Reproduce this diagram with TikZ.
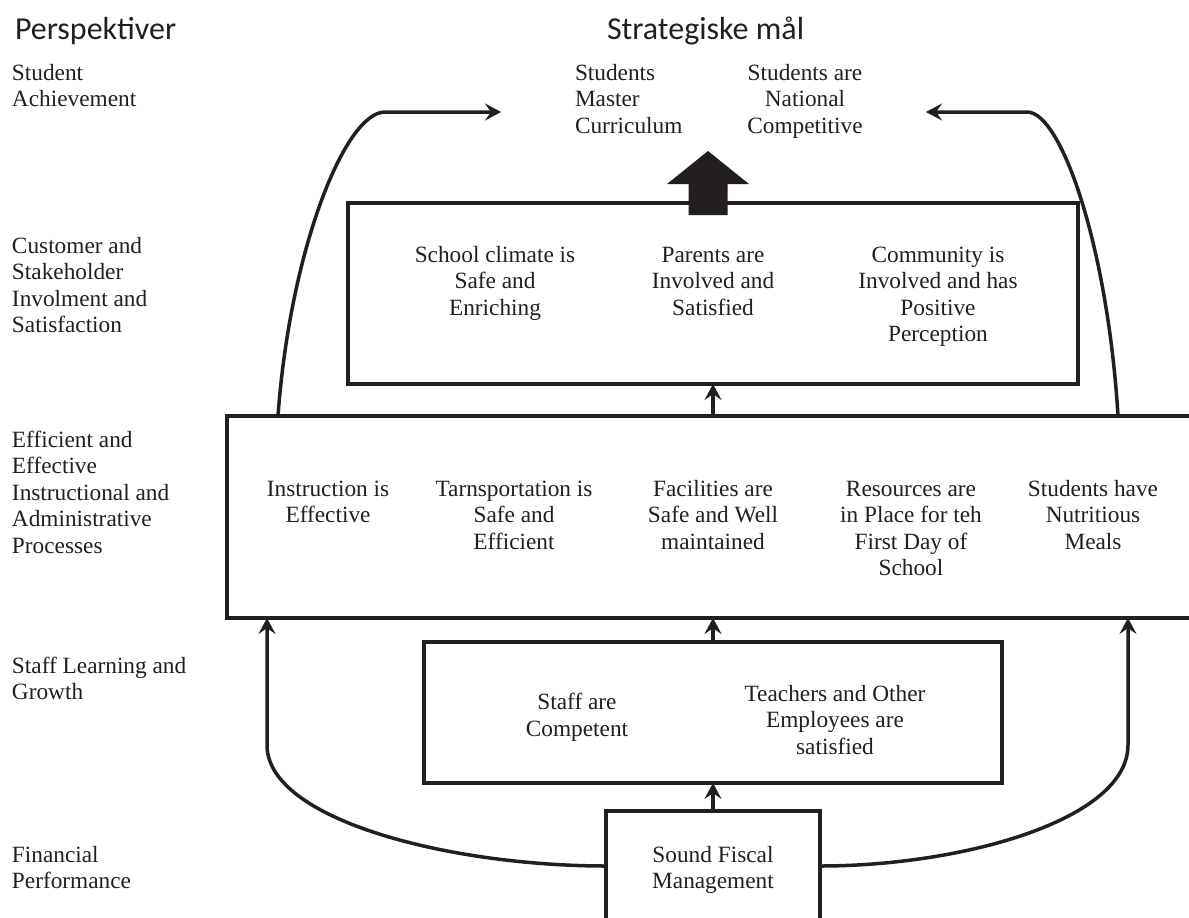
\documentclass[tikz,border=0pt]{standalone}
\usepackage{fontspec}
\setmainfont{Liberation Serif}
\newfontfamily\headfont{Carlito}
\usetikzlibrary{arrows.meta,calc}
\definecolor{ink}{RGB}{35,31,32}
\begin{document}
\begin{tikzpicture}[x=1pt,y=-1pt,
  every node/.style={inner sep=0pt,outer sep=0pt,text=ink},
  txt/.style={font=\fontsize{23.3}{26.5}\selectfont,align=center,anchor=base},
  lefttxt/.style={font=\fontsize{23.3}{26.5}\selectfont,align=left,anchor=base west},
  head/.style={font=\headfont\fontsize{32}{36}\selectfont,anchor=base west},
  panel/.style={draw=ink,line width=4pt,rectangle,fill=none},
  arr/.style={draw=ink,line width=3.5pt,-{Stealth[length=16pt,width=17pt,inset=6pt]}},
  bigarrow/.style={fill=ink}]

\fill[white] (0,0) rectangle (1189,918);
\useasboundingbox (0,0) rectangle (1189,918);

% column headings
\node[head] (hPersp) at (15,39) {Perspektiver};
\node[head] (hGoals) at (607,39) {Strategiske mål};

% perspective labels (nodes are placed by the baseline of their last line)
\node[lefttxt] (pStudent) at (12,106.5) {Student\\Achievement};
\node[lefttxt] (pCustomer) at (12,332.5) {Customer and\\Stakeholder\\Involment and\\Satisfaction};
\node[lefttxt] (pProcess) at (12,553) {Efficient and\\Effective\\Instructional and\\Administrative\\Processes};
\node[lefttxt] (pStaff) at (12,699.5) {Staff Learning and\\Growth};
\node[lefttxt] (pFinance) at (12,888.5) {Financial\\Performance};

% strategic goals at the top
\node[lefttxt] (gMaster) at (575,133) {Students\\Master\\Curriculum};
\node[txt] (gNational) at (805,133) {Students are\\National\\Competitive};
\coordinate (goalL) at (501,112);
\coordinate (goalR) at (926,112);

% frames of the layers
\node[panel,minimum width=730pt,minimum height=181pt] (cust) at (713,293.5) {};
\node[panel,minimum width=972pt,minimum height=202pt] (proc) at (713,517) {};
\node[panel,minimum width=578pt,minimum height=141pt] (staff) at (713,712.5) {};
\node[panel,minimum width=214pt,minimum height=129pt] (fiscal) at (713,875.5) {};

% customer layer
\node[txt] (cSchool) at (495,315) {School climate is\\Safe and\\Enriching};
\node[txt] (cParents) at (713,315) {Parents are\\Involved and\\Satisfied};
\node[txt] (cCommunity) at (938,341.5) {Community is\\Involved and has\\Positive\\Perception};

% process layer
\node[txt] (iInstr) at (328,522.5) {Instruction is\\Effective};
\node[txt] (iTrans) at (514,549) {Tarnsportation is\\Safe and\\Efficient};
\node[txt] (iFacil) at (713,549) {Facilities are\\Safe and Well\\maintained};
\node[txt] (iRes) at (911,575.5) {Resources are\\in Place for teh\\First Day of\\School};
\node[txt] (iMeals) at (1093,549) {Students have\\Nutritious\\Meals};

% staff layer
\node[txt] (sComp) at (577,736) {Staff are\\Competent};
\node[txt] (sSat) at (835,754) {Teachers and Other\\Employees are\\satisfied};

% financial layer
\node[txt] (fSound) at (713,888.5) {Sound Fiscal\\Management};

% straight links between the layers
\draw[arr] (proc.north) -- (cust.south);
\draw[arr] (staff.north) -- (proc.south);
\draw[arr] (fiscal.north) -- (staff.south);

% block arrow from the customer layer to the goals
\coordinate (bigBase) at ($(cust.north)+(-5,12)$);
\fill[bigarrow] ($(bigBase)+(-19.5,0)$) -- ($(bigBase)+(-19.5,-31)$) -- ($(bigBase)+(-41,-31)$)
  -- ($(bigBase)+(0,-64)$) -- ($(bigBase)+(41,-31)$) -- ($(bigBase)+(19.5,-31)$)
  -- ($(bigBase)+(19.5,0)$) -- cycle;

% curved links from the process layer up to the goals
\draw[arr] ($(proc.north west)+(51,0)$) .. controls (290,250) and (345,112) .. (385,112) -- (goalL);
\draw[arr] ($(proc.north west)+(891,0)$) .. controls (1108,250) and (1062,112) .. (1027,112) -- (goalR);

% curved links from the financial layer up to the process layer
\draw[arr] ($(fiscal.north west)+(0,55)$) .. controls (450,866) and (267,820) .. (267,745)
  -- ($(proc.south west)+(40,0)$);
\draw[arr] ($(fiscal.north east)+(0,55)$) .. controls (962,866) and (1128,820) .. (1128,745)
  -- ($(proc.south west)+(901,0)$);
\end{tikzpicture}
\end{document}
